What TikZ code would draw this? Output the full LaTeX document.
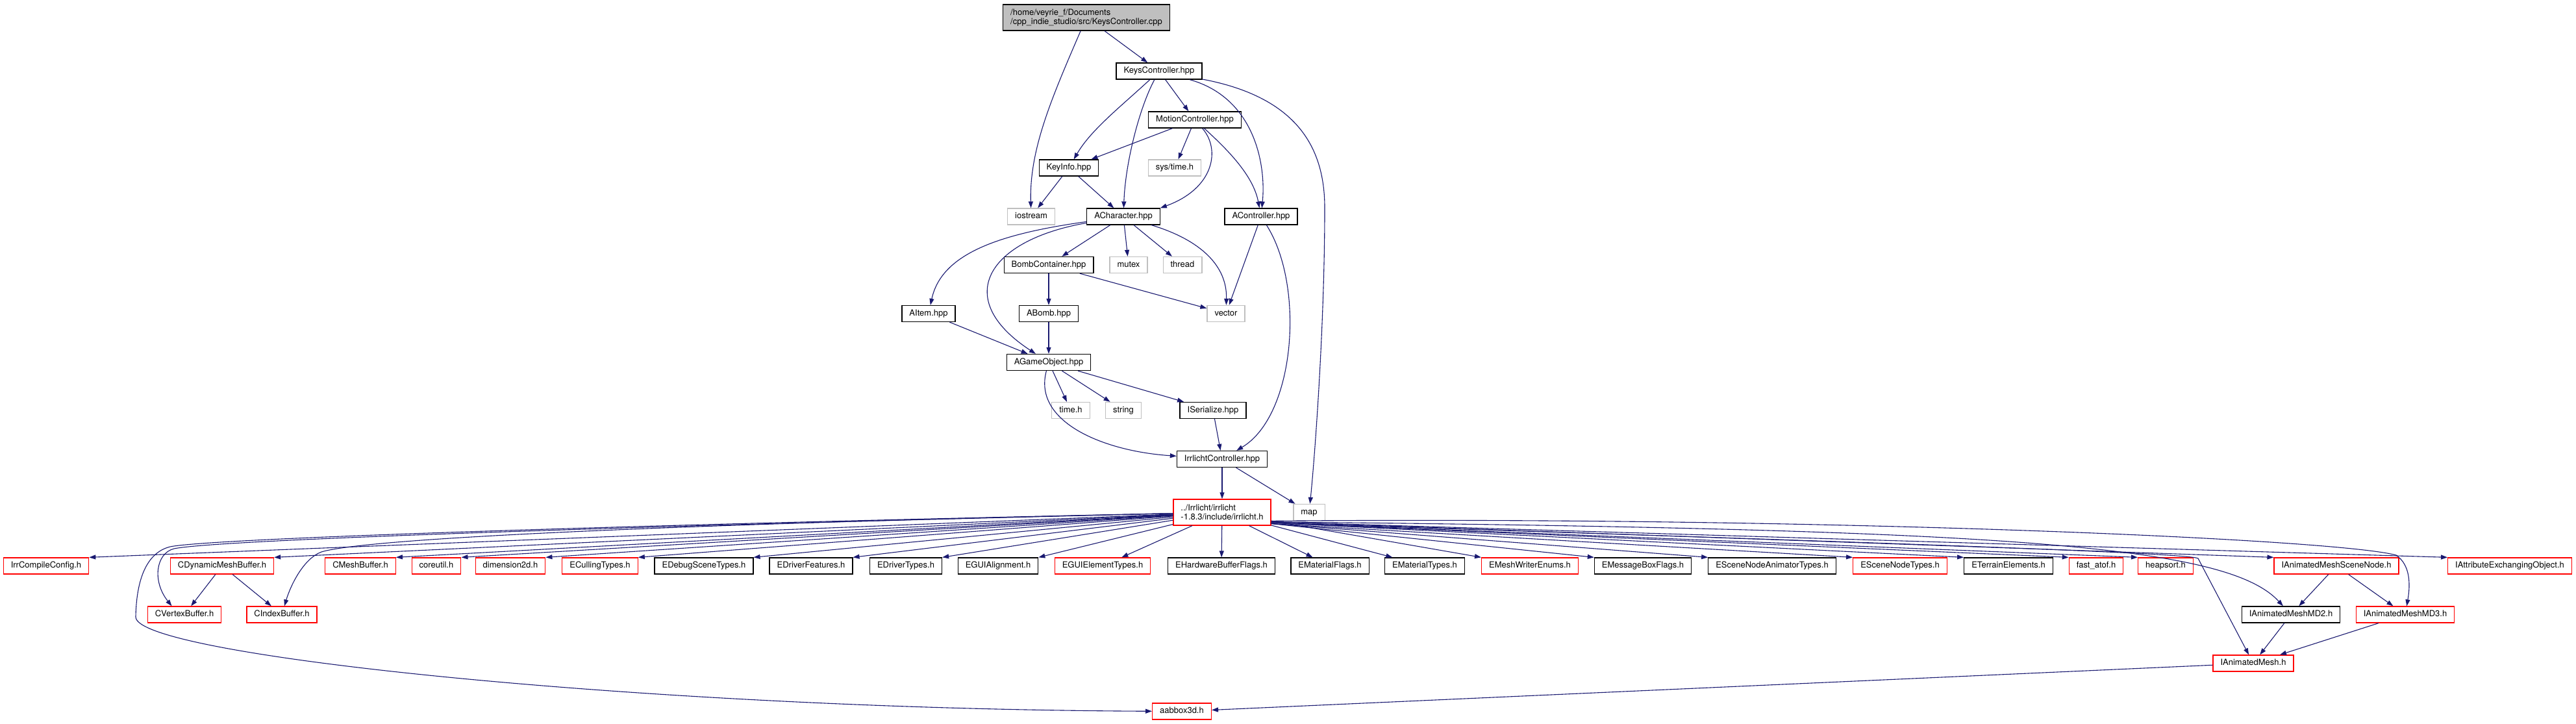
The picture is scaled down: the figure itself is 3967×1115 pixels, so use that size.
\documentclass[tikz,border=0pt]{standalone}
\usepackage{fontspec}
\setmainfont{TeX Gyre Heros}
\usetikzlibrary{arrows.meta}
\definecolor{edgeblue}{HTML}{191970}
\definecolor{extgrey}{HTML}{BFBFBF}

\begin{document}
\begin{tikzpicture}[x=1pt, y=-1pt,
  filebase/.style={draw, line width=1.3pt, inner xsep=11.5pt, inner ysep=0pt, font=\fontsize{13}{14}\selectfont},
  file/.style={filebase, minimum height=25pt, text height=9.5pt, text depth=2.8pt},
  blackbox/.style={file, draw=black},
  greybox/.style={file, draw=extgrey},
  redbox/.style={file, draw=red},
  rootbox/.style={filebase, draw=black, fill=extgrey, align=left, minimum height=40pt},
  irrbox/.style={filebase, draw=red, align=left, minimum height=40pt},
  incedge/.style={draw=edgeblue, line width=1.1pt, -{Triangle[length=10pt,width=7pt]}}
]
\useasboundingbox (0,0) rectangle (3967,1115);

% --- project headers ---
\node[rootbox] (root) at (1673,27) {/home/veyrie\_f/Documents\\/cpp\_indie\_studio/src/KeysController.cpp};
\node[blackbox] (kc) at (1785,109.5) {KeysController.hpp};
\node[blackbox] (mc) at (1840,184.5) {MotionController.hpp};
\node[blackbox] (ki) at (1646,258.5) {KeyInfo.hpp};
\node[greybox] (st) at (1809,258.5) {sys/time.h};
\node[greybox] (ios) at (1588,333.5) {iostream};
\node[blackbox] (ach) at (1730,333.5) {ACharacter.hpp};
\node[blackbox] (actl) at (1942,333.5) {AController.hpp};
\node[blackbox] (bc) at (1615,408) {BombContainer.hpp};
\node[greybox] (mtx) at (1738,408) {mutex};
\node[greybox] (thr) at (1821,408) {thread};
\node[blackbox] (ait) at (1430,483) {AItem.hpp};
\node[blackbox] (abo) at (1615,483) {ABomb.hpp};
\node[greybox] (vec) at (1888,483) {vector};
\node[blackbox] (ago) at (1615,558) {AGameObject.hpp};
\node[greybox] (tmh) at (1649,632) {time.h};
\node[greybox] (str) at (1730,632) {string};
\node[blackbox] (iser) at (1868,632) {ISerialize.hpp};
\node[blackbox] (irc) at (1882,707) {IrrlichtController.hpp};
\node[irrbox] (irr) at (1882,789) {../Irrlicht/irrlicht\\-1.8.3/include/irrlicht.h};
\node[greybox] (map) at (2016,789) {map};

% --- irrlicht headers, first row ---
\node[redbox] (icc) at (71,871.5) {IrrCompileConfig.h};
\node[redbox] (cdmb) at (342,871.5) {CDynamicMeshBuffer.h};
\node[redbox] (cmb) at (555,871.5) {CMeshBuffer.h};
\node[redbox] (cu) at (672,871.5) {coreutil.h};
\node[redbox] (d2d) at (786,871.5) {dimension2d.h};
\node[redbox] (ect) at (924,871.5) {ECullingTypes.h};
\node[blackbox] (edst) at (1084,871.5) {EDebugSceneTypes.h};
\node[blackbox] (edf) at (1249,871.5) {EDriverFeatures.h};
\node[blackbox] (edt) at (1395,871.5) {EDriverTypes.h};
\node[blackbox] (egal) at (1537,871.5) {EGUIAlignment.h};
\node[redbox] (eget) at (1698,871.5) {EGUIElementTypes.h};
\node[blackbox] (ehbf) at (1881,871.5) {EHardwareBufferFlags.h};
\node[blackbox] (emf) at (2048,871.5) {EMaterialFlags.h};
\node[blackbox] (emt) at (2194,871.5) {EMaterialTypes.h};
\node[redbox] (emwe) at (2356,871.5) {EMeshWriterEnums.h};
\node[blackbox] (embf) at (2530,871.5) {EMessageBoxFlags.h};
\node[blackbox] (esnat) at (2729,871.5) {ESceneNodeAnimatorTypes.h};
\node[redbox] (esnt) at (2926,871.5) {ESceneNodeTypes.h};
\node[blackbox] (ete) at (3093,871.5) {ETerrainElements.h};
\node[redbox] (fat) at (3228,871.5) {fast\_atof.h};
\node[redbox] (hps) at (3335,871.5) {heapsort.h};
\node[redbox] (iamsn) at (3598,871.5) {IAnimatedMeshSceneNode.h};
\node[redbox] (iaeo) at (3865,871.5) {IAttributeExchangingObject.h};

% --- lower rows ---
\node[redbox] (cvb) at (284,946.5) {CVertexBuffer.h};
\node[redbox] (cib) at (434,946.5) {CIndexBuffer.h};
\node[blackbox] (iamd2) at (3528,946.5) {IAnimatedMeshMD2.h};
\node[redbox] (iamd3) at (3704,946.5) {IAnimatedMeshMD3.h};
\node[redbox] (iam) at (3470,1021.5) {IAnimatedMesh.h};
\node[redbox] (aab) at (1820,1095.5) {aabbox3d.h};

% --- includes of the project files ---
\draw[incedge] (root) -- (kc);
\draw[incedge] (root) .. controls (1620,150) and (1585,230) .. (ios);
\draw[incedge] (kc) .. controls (1725,165) and (1680,200) .. (ki);
\draw[incedge] (kc) .. controls (1755,165) and (1733,250) .. (ach);
\draw[incedge] (kc) -- (mc);
\draw[incedge] (kc) .. controls (1930,150) and (1950,250) .. (actl);
\draw[incedge] (kc) .. controls (2000,150) and (2040,230) .. (2040,320) .. controls (2040,500) and (2025,700) .. (map);
\draw[incedge] (mc) -- (ki);
\draw[incedge] (mc) -- (st);
\draw[incedge] (mc) .. controls (1880,230) and (1870,290) .. (ach.north east);
\draw[incedge] (mc) .. controls (1890,230) and (1930,270) .. (actl);
\draw[incedge] (ki) -- (ios);
\draw[incedge] (ki) -- (ach);
\draw[incedge] (ach) .. controls (1540,360) and (1450,390) .. (ait);
\draw[incedge] (ach) .. controls (1520,370) and (1465,460) .. (ago);
\draw[incedge] (ach) -- (bc);
\draw[incedge] (ach) -- (mtx);
\draw[incedge] (ach) -- (thr);
\draw[incedge] (ach) .. controls (1850,370) and (1890,410) .. (vec);
\draw[incedge] (actl) -- (vec);
\draw[incedge] (actl) .. controls (2010,440) and (1995,640) .. (irc);
\draw[incedge] (bc) -- (abo);
\draw[incedge] (bc) -- (vec);
\draw[incedge] (abo) -- (ago);
\draw[incedge] (ait) -- (ago);
\draw[incedge] (ago) -- (tmh);
\draw[incedge] (ago) -- (str);
\draw[incedge] (ago) -- (iser);
\draw[incedge] (ago) .. controls (1590,650) and (1700,695) .. (irc);
\draw[incedge] (iser) -- (irc);
\draw[incedge] (irc) -- (irr);
\draw[incedge] (irc) -- (map);

% --- irrlicht.h fan, left side ---
\draw[incedge] (irr) -- (icc.north east);
\draw[incedge] (irr) -- (cdmb.north east);
\draw[incedge] (irr) -- (cmb.north east);
\draw[incedge] (irr) -- (cu.north east);
\draw[incedge] (irr) -- (d2d.north east);
\draw[incedge] (irr) -- (ect.north east);
\draw[incedge] (irr) -- (edst.north east);
\draw[incedge] (irr) -- (edf.north east);
\draw[incedge] (irr) -- (edt.north east);
\draw[incedge] (irr) -- (egal.north east);
\draw[incedge] (irr) .. controls (900,812) and (330,832) .. (268,845) .. controls (240,852) and (234,895) .. (cvb.146);
\draw[incedge] (irr) .. controls (1000,808) and (560,830) .. (495,850) .. controls (468,860) and (448,900) .. (cib);
\draw[incedge] (irr) .. controls (900,810) and (320,830) .. (262,842) .. controls (222,852) and (210,900) .. (209,950) .. controls (208,1010) and (1000,1092) .. (aab);

% --- irrlicht.h fan, below ---
\draw[incedge] (irr) -- (eget);
\draw[incedge] (irr) -- (ehbf);
\draw[incedge] (irr) -- (emf);
\draw[incedge] (irr) -- (emt);
\draw[incedge] (irr) -- (emwe.north west);

% --- irrlicht.h fan, right side ---
\draw[incedge] (irr.-13) -- (embf.north west);
\draw[incedge] (irr.-13) -- (esnat.north west);
\draw[incedge] (irr.-13) -- (esnt.north west);
\draw[incedge] (irr.-12) -- (ete.north west);
\draw[incedge] (irr.-12) -- (fat.north west);
\draw[incedge] (irr.-12) -- (hps.north west);
\draw[incedge] (irr.-11) -- (iamsn.north west);
\draw[incedge] (irr.-11) -- (iaeo.north west);
\draw[incedge] (irr.-11) .. controls (3100,815) and (3430,840) .. (iamd2);
\draw[incedge] (irr.-10) .. controls (2800,795) and (3600,830) .. (3690,855) .. controls (3712,870) and (3712,900) .. (iamd3);
\draw[incedge] (irr.-12) .. controls (2700,830) and (3370,850) .. (3385,860) -- (iam);

% --- mesh headers ---
\draw[incedge] (cdmb) -- (cvb);
\draw[incedge] (cdmb) -- (cib);
\draw[incedge] (iamsn) -- (iamd2);
\draw[incedge] (iamsn) -- (iamd3);
\draw[incedge] (iamd2) -- (iam);
\draw[incedge] (iamd3) -- (iam);
\draw[incedge] (iam) -- (aab);

\end{tikzpicture}
\end{document}
